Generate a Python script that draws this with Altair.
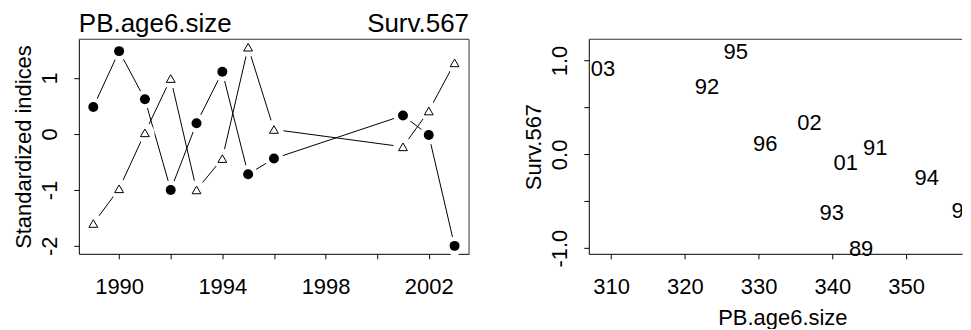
import altair as alt
import pandas as pd

# ---- data ----
years = [1989, 1990, 1991, 1992, 1993, 1994, 1995, 1996, 2001, 2002, 2003]
pb_std = [0.48, 1.48, 0.62, -1.00, 0.19, 1.11, -0.72, -0.44, 0.33, -0.02, -2.00]
surv_std = [-1.60, -0.98, 0.02, 0.99, -1.00, -0.44, 1.55, 0.08, -0.23, 0.41, 1.27]

year_labels = ["89", "90", "91", "92", "93", "94", "95", "96", "01", "02", "03"]
pb_size = [343.9, 357.8, 345.8, 323.0, 339.9, 352.8, 326.9, 330.9, 341.8, 336.9, 308.9]
surv_raw = [-1.01, -0.60, 0.07, 0.72, -0.62, -0.25, 1.09, 0.11, -0.09, 0.33, 0.91]

year_ticks = [1990, 1992, 1994, 1996, 1998, 2000, 2002]
std_ticks = [-2, -1, 0, 1]
size_ticks = [310, 320, 330, 340, 350]
surv_ticks = [-1.0, -0.5, 0.0, 0.5, 1.0]
top_titles = ["PB.age6.size", "Surv.567"]

FONT = "Liberation Sans"
FRAME = "#333333"
LW, LH = 391, 215
RW, RH = 374, 215
X_R_MIN = 306.97
X_R_MAX = X_R_MIN + RW / 7.39

ts = pd.DataFrame({"year": years, "pb": pb_std, "surv": surv_std})
sc = pd.DataFrame({"lab": year_labels, "size": pb_size, "surv": surv_raw})
one = pd.DataFrame({"a": [0]})

# ---- left panel ----
xaxis_l = alt.Axis(values=year_ticks, format="d",
                   labelExpr="datum.value % 4 == 2 ? datum.label : ''",
                   labelBaseline="alphabetic", labelPadding=35, title=None,
                   labelFlush=False, labelOverlap=False)
yaxis_l = alt.Axis(values=std_ticks, title="Standardized indices",
                   labelExpr="(datum.value < 0 ? '-' : '') + format(abs(datum.value), 'd')",
                   labelAngle=270, labelAlign="center", labelBaseline="alphabetic",
                   labelPadding=17, titleAngle=270, titleBaseline="alphabetic",
                   titleX=-48, titleAlign="center", labelOverlap=False, labelFlush=False)
xs_l = alt.Scale(domain=[1988.44, 2003.56], nice=False, zero=False)
ys_l = alt.Scale(domain=[-2.142, 1.692], nice=False, zero=False)

X = alt.X("year:Q", scale=xs_l, axis=xaxis_l)
Y1 = alt.Y("pb:Q", scale=ys_l, axis=yaxis_l)
Y2 = alt.Y("surv:Q", scale=ys_l, axis=yaxis_l)

base = alt.Chart(ts)
line1 = base.mark_line(color="black", strokeWidth=1).encode(x=X, y=Y1)
line2 = base.mark_line(color="black", strokeWidth=1).encode(x=X, y=Y2)
halo1 = base.mark_circle(color="white", opacity=1, size=360).encode(x=X, y=Y1)
halo2 = base.mark_circle(color="white", opacity=1, size=380).encode(x=X, y=Y2)
pts1 = base.mark_circle(color="black", opacity=1, size=100).encode(x=X, y=Y1)
pts2 = base.mark_point(shape="triangle-up", filled=True, fill="white", stroke="black",
                       strokeWidth=1, opacity=1, size=78).encode(x=X, y=Y2)

frame_top = alt.Chart(one).mark_rule(color=FRAME, strokeWidth=1).encode(
    x=alt.value(0), x2=alt.value(LW), y=alt.value(0))
frame_right = alt.Chart(one).mark_rule(color=FRAME, strokeWidth=1).encode(
    x=alt.value(LW), y=alt.value(0), y2=alt.value(LH))

tdf = pd.DataFrame({"t": top_titles})
title_l = alt.Chart(tdf).transform_filter(alt.datum.t == top_titles[0]).mark_text(
    align="left", baseline="alphabetic", fontSize=26, font=FONT, color="black"
).encode(text="t:N", x=alt.value(0), y=alt.value(-7))
title_r = alt.Chart(tdf).transform_filter(alt.datum.t == top_titles[1]).mark_text(
    align="right", baseline="alphabetic", fontSize=26, font=FONT, color="black"
).encode(text="t:N", x=alt.value(LW), y=alt.value(-7))

left = alt.layer(line1, line2, halo1, halo2, pts1, pts2, frame_top, frame_right,
                 title_l, title_r).properties(
    width=LW, height=LH, view=alt.ViewBackground(strokeOpacity=0)
)

# ---- right panel ----
xaxis_r = alt.Axis(values=size_ticks, format="d", labelBaseline="alphabetic",
                   labelPadding=35, title="PB.age6.size", titleBaseline="alphabetic",
                   titleY=71, titleX=194, titleAlign="center",
                   labelFlush=False, labelOverlap=False)
yaxis_r = alt.Axis(values=surv_ticks, title="Surv.567",
                   labelExpr="abs(datum.value) == 0.5 ? '' : (datum.value < 0 ? '-' : '') + format(abs(datum.value), '.1f')",
                   labelAngle=270, labelAlign="center", labelBaseline="alphabetic",
                   labelPadding=17, titleAngle=270, titleBaseline="alphabetic",
                   titleX=-48, titleAlign="center", labelOverlap=False, labelFlush=False)
xs_r = alt.Scale(domain=[X_R_MIN, X_R_MAX], nice=False, zero=False)
ys_r = alt.Scale(domain=[-1.06, 1.227], nice=False, zero=False)

XR = alt.X("size:Q", scale=xs_r, axis=xaxis_r)
YR = alt.Y("surv:Q", scale=ys_r, axis=yaxis_r)
near_edge = alt.datum.size > X_R_MAX - 2.5

labels_in = alt.Chart(sc).transform_filter(~near_edge).mark_text(
    fontSize=22, font=FONT, color="black", baseline="middle", align="center"
).encode(x=XR, y=YR, text="lab:N")
labels_edge = alt.Chart(sc).transform_filter(near_edge).mark_text(
    fontSize=22, font=FONT, color="black", baseline="middle", align="center", clip=True
).encode(x=XR, y=YR, text="lab:N")
top_rule = alt.Chart(one).mark_rule(color=FRAME, strokeWidth=1).encode(
    x=alt.value(0), x2=alt.value(RW), y=alt.value(0)
)
right = alt.layer(labels_in, labels_edge, top_rule).properties(
    width=RW, height=RH, view=alt.ViewBackground(strokeOpacity=0)
)

chart = alt.hconcat(left, right, spacing=120, bounds="flush").properties(
    padding={"left": 4, "top": 3, "right": 0, "bottom": 0}
).configure(font=FONT).configure_axis(
    grid=False, domainColor="black", tickColor="black", labelColor="black",
    titleColor="black", labelFont=FONT, titleFont=FONT, labelFontSize=22,
    titleFontSize=22, titleFontWeight="normal", tickSize=5, domainWidth=1, tickWidth=1,
    zindex=1,
)

chart.save("out.html", embed_options={"renderer": "svg", "actions": False})
